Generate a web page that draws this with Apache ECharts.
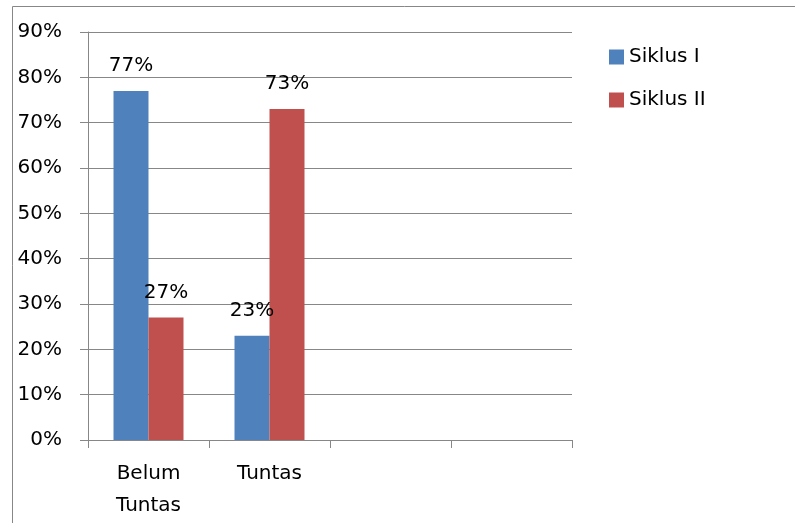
<!DOCTYPE html>
<html>
<head>
<meta charset="utf-8">
<script src="https://cdn.jsdelivr.net/npm/echarts@6/dist/echarts.min.js"></script>
<style>
  html, body { margin: 0; padding: 0; background: #fff; overflow: hidden; }
  #chart { width: 795px; height: 523px; }
</style>
</head>
<body>
<div id="chart"></div>
<script>
// data
var categories = ['Belum\nTuntas', 'Tuntas', '', ''];
var siklus1 = [77, 23, null, null];
var siklus2 = [27, 73, null, null];
var yTicks = { min: 0, max: 90, interval: 10 };

var font = 'DejaVu Sans';
var grey = '#878787';

var chart = echarts.init(document.getElementById('chart'));

var labelStyle = {
  show: true,
  position: 'top',
  distance: 15,
  formatter: '{c}%',
  color: '#000',
  fontFamily: font,
  fontSize: 20
};

var option = {
  animation: false,
  backgroundColor: '#fff',
  // outer chart frame, only the top and left edges are inside the picture
  graphic: [
    {
      type: 'polyline',
      shape: { points: [[12.5, 540], [12.5, 6.5], [810, 6.5]] },
      style: { fill: 'none', stroke: grey, lineWidth: 1 },
      silent: true
    }
  ],
  legend: {
    orient: 'vertical',
    left: 604,
    top: 42,
    itemWidth: 15,
    itemHeight: 15,
    itemGap: 23,
    icon: 'rect',
    textStyle: { fontFamily: font, fontSize: 20, color: '#000', lineHeight: 20, padding: [0, 0, 0, 0] },
    data: ['Siklus I', 'Siklus II']
  },
  grid: { left: 88, right: 223, top: 32, bottom: 83, containLabel: false },
  xAxis: {
    type: 'category',
    data: categories,
    axisLine: { lineStyle: { color: grey, width: 1 } },
    axisTick: { show: true, length: 8, lineStyle: { color: grey } },
    axisLabel: {
      margin: 18,
      color: '#000',
      fontFamily: font,
      fontSize: 20,
      lineHeight: 32,
      interval: 0
    }
  },
  yAxis: {
    type: 'value',
    min: yTicks.min,
    max: yTicks.max,
    interval: yTicks.interval,
    axisLine: { show: true, lineStyle: { color: grey, width: 1 } },
    axisTick: { show: true, length: 8, lineStyle: { color: grey } },
    splitLine: { lineStyle: { color: grey, width: 1 } },
    axisLabel: {
      margin: 26,
      padding: [6, 0, 0, 0],
      formatter: '{value}%',
      color: '#000',
      fontFamily: font,
      fontSize: 20
    }
  },
  series: [
    {
      name: 'Siklus I',
      type: 'bar',
      data: siklus1,
      barWidth: 35,
      barGap: '0%',
      itemStyle: { color: '#4F81BD' },
      label: labelStyle
    },
    {
      name: 'Siklus II',
      type: 'bar',
      data: siklus2,
      barWidth: 35,
      barGap: '0%',
      itemStyle: { color: '#C0504D' },
      label: labelStyle
    }
  ]
};

chart.setOption(option);
</script>
</body>
</html>
